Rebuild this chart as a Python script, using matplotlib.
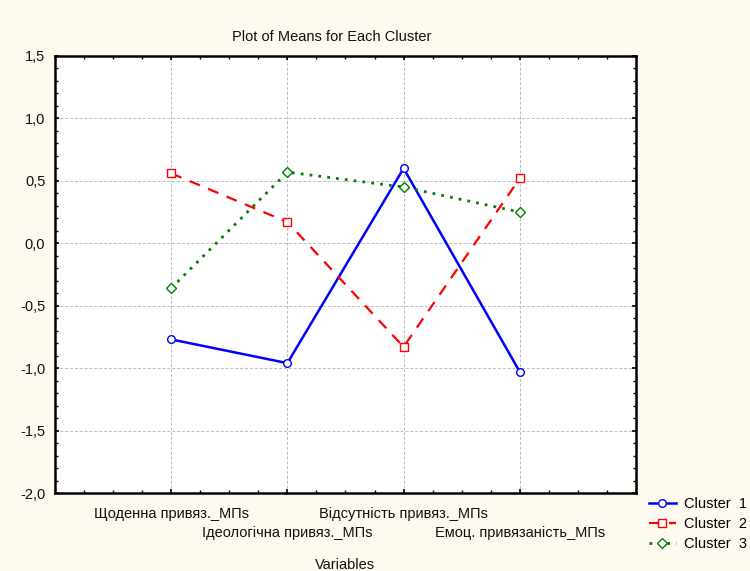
import matplotlib
matplotlib.use("Agg")
import matplotlib.pyplot as plt
from matplotlib.ticker import MultipleLocator, FixedLocator, FuncFormatter

plt.rcParams['font.family'] = ['Liberation Sans', 'DejaVu Sans']

categories = ["Щоденна привяз._МПs", "Ідеологічна привяз._МПs",
              "Відсутність привяз._МПs", "Емоц. привязаність_МПs"]
cluster1 = [-0.77, -0.96, 0.60, -1.03]
cluster2 = [0.56, 0.17, -0.83, 0.52]
cluster3 = [-0.36, 0.57, 0.45, 0.25]
series_names = ["Cluster  1", "Cluster  2", "Cluster  3"]

bg = "#FEFAF0"
fig = plt.figure(figsize=(7.5, 5.71), dpi=100, facecolor=bg)
ax = fig.add_axes([0.0733, 0.1366, 0.7747, 0.7654])
ax.set_facecolor("white")

x = list(range(1, len(categories) + 1))
ax.plot(x, cluster1, color="#0000FF", lw=1.8, ls="-", marker="o", ms=5.5,
        mfc="white", mec="#0000FF", mew=1.0, label=series_names[0], zorder=3)
ax.plot(x, cluster2, color="#FF0000", lw=1.6, ls=(0, (5, 4)), marker="s", ms=5.5,
        mfc="white", mec="#FF0000", mew=1.0, label=series_names[1], zorder=3)
ax.plot(x, cluster3, color="#008000", lw=2.0, ls=(0, (1, 2.2)), marker="D", ms=5,
        mfc="white", mec="#008000", mew=1.0, label=series_names[2], zorder=3)

ax.set_xlim(0, len(categories) + 1)
ax.set_ylim(-2.0, 1.5)
ax.yaxis.set_major_locator(MultipleLocator(0.5))
ax.yaxis.set_minor_locator(MultipleLocator(0.1))
ax.yaxis.set_major_formatter(FuncFormatter(lambda v, p: f"{v:.1f}".replace(".", ",").replace("-0,0", "0,0")))
ax.xaxis.set_major_locator(FixedLocator(x))
ax.xaxis.set_minor_locator(MultipleLocator(0.25))
ax.set_xticklabels(categories)

ax.tick_params(which="both", direction="in", top=True, right=True, colors="black",
               labelsize=10.5, labelcolor="#111111")
ax.tick_params(which="major", length=3, width=1.2)
ax.tick_params(which="minor", length=2, width=1.0)
ax.tick_params(axis="y", pad=7)
for i, t in enumerate(ax.xaxis.get_major_ticks()):
    t.set_pad(10 if i % 2 == 0 else 24)

for s in ax.spines.values():
    s.set_linewidth(1.8)
    s.set_color("black")

ax.grid(True, which="major", color="#BBBBBB", ls=(0, (3, 2)), lw=0.7)
ax.set_axisbelow(True)

ax.set_title("Plot of Means for Each Cluster", fontsize=10.5, pad=11, color="#111111", x=0.476)
ax.set_xlabel("Variables", fontsize=10.5, color="#111111")
ax.xaxis.set_label_coords(0.5, -0.148)

leg = fig.legend(loc="lower left", bbox_to_anchor=(0.858, 0.025), frameon=False,
                 fontsize=10.5, handlelength=1.8, labelspacing=0.4, handletextpad=0.6,
                 borderaxespad=0.0)

fig.savefig("out.png", dpi=100, facecolor=bg)
